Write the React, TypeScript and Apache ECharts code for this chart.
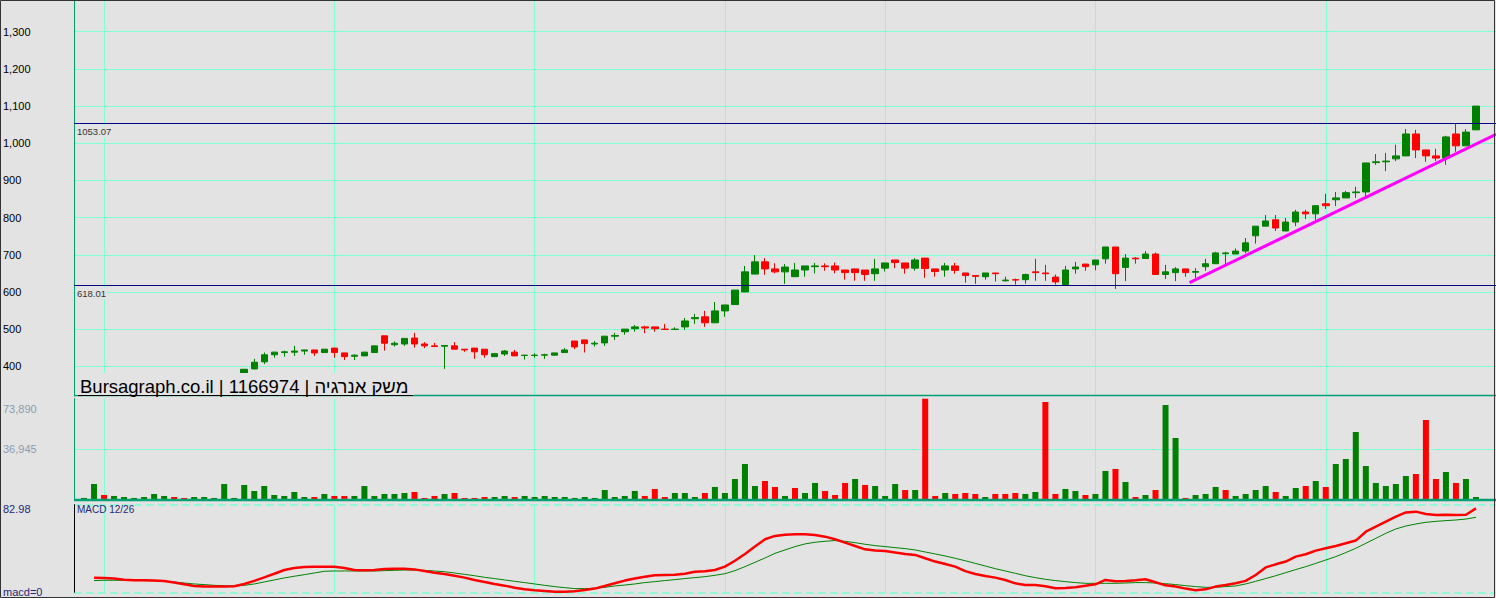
import React, { useEffect, useRef } from 'react';
import * as echarts from 'echarts';

// ---------- data ----------
const opens = [362,360,364,356,355,354,353,352,353,356,353,350,351,352,355,365,
  377,393,412,431,437,438,441,444,437,449,
  436,427,428,437,482,458,460,476,460,455,
  454,455,446,449,446,426,433,438,429,429,
  430,430,437,468,471,460,463,481,493,501,
  506,506,500,499,506,528,533,517,549,566,
  600,648,681,662,654,641,659,668,670,670,
  659,662,659,649,664,686,678,664,691,662,
  659,670,651,644,641,651,630,633,633,654,
  651,640,620,662,675,673,689,721,666,691,
  690,702,647,652,662,653,668,676,703,702,
  710,751,777,794,764,788,815,810,837,848,
  853,867,869,948,950,958,966,1025,982,966,
  960,1025,993,1036];
const closes = [366,364,358,359,357,356,355,356,355,352,350,353,354,355,366,370,
  392,411,431,438,439,441,444,436,446,437,
  426,430,438,455,462,462,475,460,455,453,
  456,446,444,439,431,434,441,428,430,430,
  431,436,444,452,461,462,481,483,500,506,
  503,501,499,500,522,531,517,549,565,605,
  654,681,662,654,667,659,670,670,668,659,
  652,652,647,662,678,679,664,686,663,655,
  670,658,644,642,651,649,632,632,647,652,
  649,627,659,667,668,686,721,649,691,689,
  702,647,654,662,652,655,676,705,705,710,
  732,777,791,772,788,815,810,832,832,853,
  867,869,947,950,952,966,1025,982,966,960,
  1017,993,1030,1100];
const lows = [360,358,356,354,353,352,351,350,351,350,348,348,350,351,354,363,
  376,392,406,423,426,428,431,428,437,423,
  417,417,428,437,442,453,455,450,449,453,
  393,446,439,420,423,426,428,428,418,423,
  420,428,437,446,437,453,455,471,485,493,
  489,493,499,499,498,514,506,517,533,566,
  600,648,646,650,622,641,641,650,657,650,
  633,630,630,630,655,664,649,657,638,641,
  641,649,625,622,633,628,628,620,622,630,
  630,620,618,649,657,658,676,608,629,676,
  690,647,635,629,641,638,657,676,675,702,
  704,730,777,764,764,777,796,794,823,831,
  853,853,855,942,925,952,966,960,950,952,
  942,977,993,1036];
const highs = [368,366,366,361,359,358,357,358,357,357,354,355,356,357,368,371,
  392,420,437,439,442,455,444,444,446,449,
  436,432,439,455,482,467,475,490,465,463,
  457,465,446,449,446,436,444,444,430,435,
  434,436,449,468,471,468,481,490,500,511,
  509,506,514,505,530,541,549,573,565,605,
  670,699,691,677,675,678,670,678,677,679,
  659,662,659,689,678,686,678,691,691,662,
  678,678,651,644,651,651,641,636,649,689,
  673,647,670,681,675,686,721,721,702,694,
  710,706,673,667,662,664,689,708,708,717,
  745,777,807,807,799,821,821,832,864,869,
  872,883,947,971,974,996,1038,1036,982,985,
  1020,1053,1038,1100];
const volumes = [980,11260,3180,2450,1710,980,1710,3920,2450,1710,980,1710,1710,980,11260,980,
  10530,6120,9790,3180,2450,5390,1710,1710,3920,2450,
  2450,2450,9790,2450,3920,3920,4650,5390,980,2450,
  3920,4650,980,980,1710,1710,2450,1710,2450,1710,
  2450,1710,1710,980,1710,980,6850,1710,2450,6120,
  2450,7590,1710,4650,4650,1710,4650,9060,4650,14930,
  25950,9790,13460,9060,2450,8320,4650,12000,6120,3180,
  12000,14930,10530,9790,2450,11260,6850,6850,73890,2450,
  4650,3920,4650,3920,1710,3920,3920,4650,3920,5390,
  71480,3920,7590,6120,3180,3920,20810,22280,12730,1710,
  3180,6850,69280,45040,980,3180,3920,9060,6850,2450,
  3920,6850,9790,5390,2450,8320,9790,13460,9060,25950,
  29620,49450,24480,12000,9790,11260,17140,18600,58260,14930,
  20070,12000,14930,1710];
// 1 = green (up) volume bar, 0 = red
const volumeUp = [1,1,0,1,1,1,1,1,1,0,0,1,1,1,1,1,
  1,1,1,1,1,1,1,0,1,0,
  0,1,1,1,1,1,1,0,0,0,
  1,0,0,0,0,1,1,0,1,1,
  1,1,1,1,1,1,1,1,1,1,
  0,0,0,1,1,1,0,1,1,1,
  1,1,0,0,1,0,1,1,0,0,
  0,1,0,1,1,1,0,1,0,0,
  1,0,0,0,1,0,0,0,1,1,
  0,0,1,1,0,1,1,0,1,0,
  1,0,1,1,0,1,1,1,0,1,
  1,1,1,0,1,1,0,1,0,1,
  1,1,1,1,1,1,1,0,0,0,
  1,0,1,1];
// MACD 12/26 (starts at the 2nd bar)
const macd = [13.9,13.6,13.0,12.0,11.4,11.4,11.1,10.8,9.2,7.6,
  6.0,5.4,5.4,5.4,5.7,7.9,10.8,14.2,17.6,21.1,
  23.0,24.0,24.3,24.3,24.3,23.0,21.1,20.8,21.1,22.1,
  22.4,22.4,21.7,20.1,18.6,17.3,15.7,13.9,11.7,9.8,
  7.9,6.3,4.4,2.8,1.9,1.3,0.6,0.6,0.9,2.2,
  3.5,6.0,8.5,11.1,13.0,14.8,16.1,16.4,16.7,17.6,
  19.5,19.9,21.1,24.3,29.9,36.3,43.3,50.2,53.4,54.6,
  54.9,54.9,54.3,52.7,50.2,47.0,43.9,40.7,39.5,39.1,
  37.6,36.3,35.4,32.2,29.1,26.8,24.3,20.1,17.3,15.4,
  13.9,11.7,8.5,6.9,6.9,5.7,3.8,4.1,4.7,6.3,
  7.6,11.7,10.4,10.8,11.4,12.3,9.5,6.6,5.4,3.5,
  1.9,2.8,5.4,6.9,8.5,10.8,16.4,23.6,26.5,29.1,
  33.8,36.0,39.5,41.7,43.9,46.4,49.0,57.4,62.2,66.9,
  71.6,75.7,76.4,74.2,73.2,73.5,73.2,73.5,79.5];
const signal = [11.1,11.4,11.4,11.4,11.1,11.1,10.8,10.4,9.8,8.8,
  7.9,7.3,6.6,6.3,6.0,6.6,7.9,9.8,11.7,13.6,
  15.2,16.7,18.3,19.9,20.2,20.2,20.2,20.2,20.2,20.5,
  20.8,21.1,21.1,20.8,20.2,19.5,18.3,17.0,15.7,14.2,
  13.0,11.7,10.4,9.2,7.9,6.6,5.4,4.4,3.5,3.5,
  3.8,4.7,6.0,6.9,7.9,9.2,10.1,11.1,12.0,13.0,
  13.9,14.8,16.1,17.6,20.5,24.3,28.4,32.5,36.9,40.1,
  43.3,45.8,47.4,48.3,49.0,48.3,47.0,45.5,44.2,43.3,
  42.3,41.4,40.1,38.2,36.3,34.4,32.2,29.9,27.4,24.9,
  22.4,20.2,18.0,15.7,13.9,12.3,11.1,10.1,9.2,8.5,
  8.5,8.5,8.5,8.8,9.2,9.2,8.8,8.2,7.3,6.3,
  5.4,4.7,4.7,5.4,6.0,7.9,10.4,13.0,15.7,18.6,
  21.5,24.3,27.4,30.6,33.8,37.6,41.7,46.4,51.1,55.9,
  60.0,62.8,64.7,66.3,67.2,67.9,68.5,69.4,71.0];
// trend line: [bar position, price]
const trendLine = [[111.4, 625], [142, 1024]];
const levels = [1053.07, 618.01];
const monthLines = [3, 26, 46, 65, 81, 102, 125];
const priceTicks = [400, 500, 600, 700, 800, 900, 1000, 1100, 1200, 1300];
const volumeTicks = [36945, 73890];
const macdTicks = [0, 82.98];
const TITLE = 'Bursagraph.co.il | 1166974 | משק אנרגיה';

// ---------- styling ----------
const BG = '#e3e3e3';
const GRID = '#7fffd4';
const FRAME = '#00a070';
const UP = '#008000';
const DOWN = '#ff0000';
const FONT = '"Liberation Sans", Arial, sans-serif';
const N = 143; // bar slots 0..142, data in 1..140
const slots = Array.from({ length: N }, (_, i) => String(i));
const LEFT = 74;
const WIDTH = 1423;

export default function App() {
  const ref = useRef<HTMLDivElement>(null);
  useEffect(() => {
    const chart = echarts.init(ref.current!, null, { renderer: 'svg' });
    const candles: any[] = ['-'];
    opens.forEach((o, i) => candles.push([o, closes[i], lows[i], highs[i]]));
    candles.push('-', '-');
    const vol: any[] = ['-'];
    volumes.forEach((v, i) => vol.push({ value: v, itemStyle: { color: volumeUp[i] ? UP : DOWN } }));
    vol.push('-', '-');
    const macdData = ['-', '-', ...macd, '-', '-'];
    const sigData = ['-', '-', ...signal, '-', '-'];

    const catAxis = (gridIndex: number) => ({
      type: 'category', gridIndex, data: slots, boundaryGap: false,
      axisLine: { show: false }, axisTick: { show: false }, axisLabel: { show: false },
      splitLine: { show: true, interval: (i: number) => monthLines.includes(i), lineStyle: { color: GRID, width: 1 } },
    });

    chart.setOption({
      animation: false,
      backgroundColor: BG,
      textStyle: { fontFamily: FONT },
      grid: [
        { left: LEFT, top: 0, width: WIDTH, height: 396 },
        { left: LEFT, top: 398.7, width: WIDTH, height: 100.6 },
        { left: LEFT, top: 504.7, width: WIDTH, height: 87.6 },
      ],
      xAxis: [
        catAxis(0), catAxis(1), catAxis(2),
        { type: 'value', gridIndex: 0, min: 0, max: N - 1, show: false },
      ],
      yAxis: [
        {
          type: 'value', gridIndex: 0, min: 320.1, max: 1385.3, splitNumber: 10,
          axisLine: { show: true, lineStyle: { color: FRAME, width: 1 } },
          axisTick: { show: false, customValues: priceTicks },
          axisLabel: { customValues: priceTicks, align: 'left', margin: 71, color: '#000', fontSize: 11, fontFamily: FONT,
            formatter: (v: number) => v.toLocaleString('en-US') },
          splitLine: { show: true, lineStyle: { color: GRID, width: 1 } },
        },
        {
          type: 'value', gridIndex: 1, min: 0, max: 73890,
          axisLine: { show: true, lineStyle: { color: FRAME, width: 1 } },
          axisTick: { show: false, customValues: [36945] },
          axisLabel: { customValues: volumeTicks, align: 'left', margin: 71, color: '#8c9bb0', fontSize: 11, fontFamily: FONT,
            formatter: (v: number) => (v === 73890 ? '{t|73,890}' : v.toLocaleString('en-US')),
            rich: { t: { padding: [21, 0, 0, 0], color: '#8c9bb0', fontSize: 11, fontFamily: FONT } } },
          splitLine: { show: true, lineStyle: { color: GRID, width: 1 } },
        },
        {
          type: 'value', gridIndex: 2, min: 0, max: 82.98,
          axisLine: { show: true, lineStyle: { color: '#000', width: 1 } },
          axisTick: { show: false, customValues: macdTicks },
          axisLabel: { customValues: macdTicks, align: 'left', margin: 71, color: '#1c2a78', fontSize: 11, fontFamily: FONT,
            formatter: (v: number) => (v === 0 ? 'macd=0' : '{t|82.98}'),
            rich: { t: { padding: [9, 0, 0, 0], color: '#1c2a78', fontSize: 11, fontFamily: FONT } } },
          splitLine: { show: true, lineStyle: { color: GRID, width: 1.5, type: [8, 4] } },
        },
      ],
      series: [
        {
          type: 'candlestick', xAxisIndex: 0, yAxisIndex: 0, data: candles, barWidth: 7,
          itemStyle: { color: UP, color0: DOWN, borderColor: UP, borderColor0: DOWN, borderWidth: 1 },
          markLine: {
            silent: true, symbol: 'none', animation: false,
            lineStyle: { color: '#000080', width: 1, type: 'solid' },
            label: { show: true, position: 'insideStartBottom', distance: [2, 2], color: '#333', fontSize: 9.5, fontFamily: FONT,
              backgroundColor: BG, padding: [1, 1], formatter: (p: any) => String(p.value) },
            data: levels.map((v) => ({ yAxis: v })),
          },
        },
        {
          type: 'line', xAxisIndex: 3, yAxisIndex: 0, data: trendLine, showSymbol: false, symbol: 'none',
          lineStyle: { color: '#ff00ff', width: 3 }, z: 4,
        },
        { type: 'bar', xAxisIndex: 1, yAxisIndex: 1, data: vol, barWidth: 6 },
        { type: 'line', xAxisIndex: 2, yAxisIndex: 2, data: sigData, showSymbol: false, symbol: 'none', lineStyle: { color: UP, width: 1 } },
        { type: 'line', xAxisIndex: 2, yAxisIndex: 2, data: macdData, showSymbol: false, symbol: 'none', lineStyle: { color: DOWN, width: 2.5 } },
      ],
      graphic: [
        { type: 'line', z: 99, shape: { x1: 74, y1: 395.5, x2: 1496, y2: 395.5 }, style: { stroke: FRAME, lineWidth: 1.5 } },
        { type: 'line', z: 99, shape: { x1: 74, y1: 500, x2: 1496, y2: 500 }, style: { stroke: FRAME, lineWidth: 2.5 } },
        { type: 'rect', z: 100, shape: { x: 75, y: 373, width: 339, height: 22 }, style: { fill: BG } },
        { type: 'line', z: 101, shape: { x1: 78, y1: 395.5, x2: 413, y2: 395.5 }, style: { stroke: '#000', lineWidth: 1 } },
        { type: 'text', z: 101, x: 80, y: 386, style: { text: TITLE, font: `18.5px ${FONT}`, fill: '#000', textVerticalAlign: 'middle', verticalAlign: 'middle' } },
        { type: 'text', z: 101, x: 77, y: 509, style: { text: 'MACD 12/26', font: `10px ${FONT}`, fill: '#1c2a78', verticalAlign: 'middle', textVerticalAlign: 'middle' } },
        { type: 'rect', z: 102, shape: { x: 0.5, y: 0.5, width: 1494, height: 597 }, style: { fill: 'none', stroke: '#333', lineWidth: 1 } },
      ],
    });
    return () => chart.dispose();
  }, []);
  return <div ref={ref} style={{ position: 'absolute', left: 0, top: 0, width: 1496, height: 598 }} />;
}
